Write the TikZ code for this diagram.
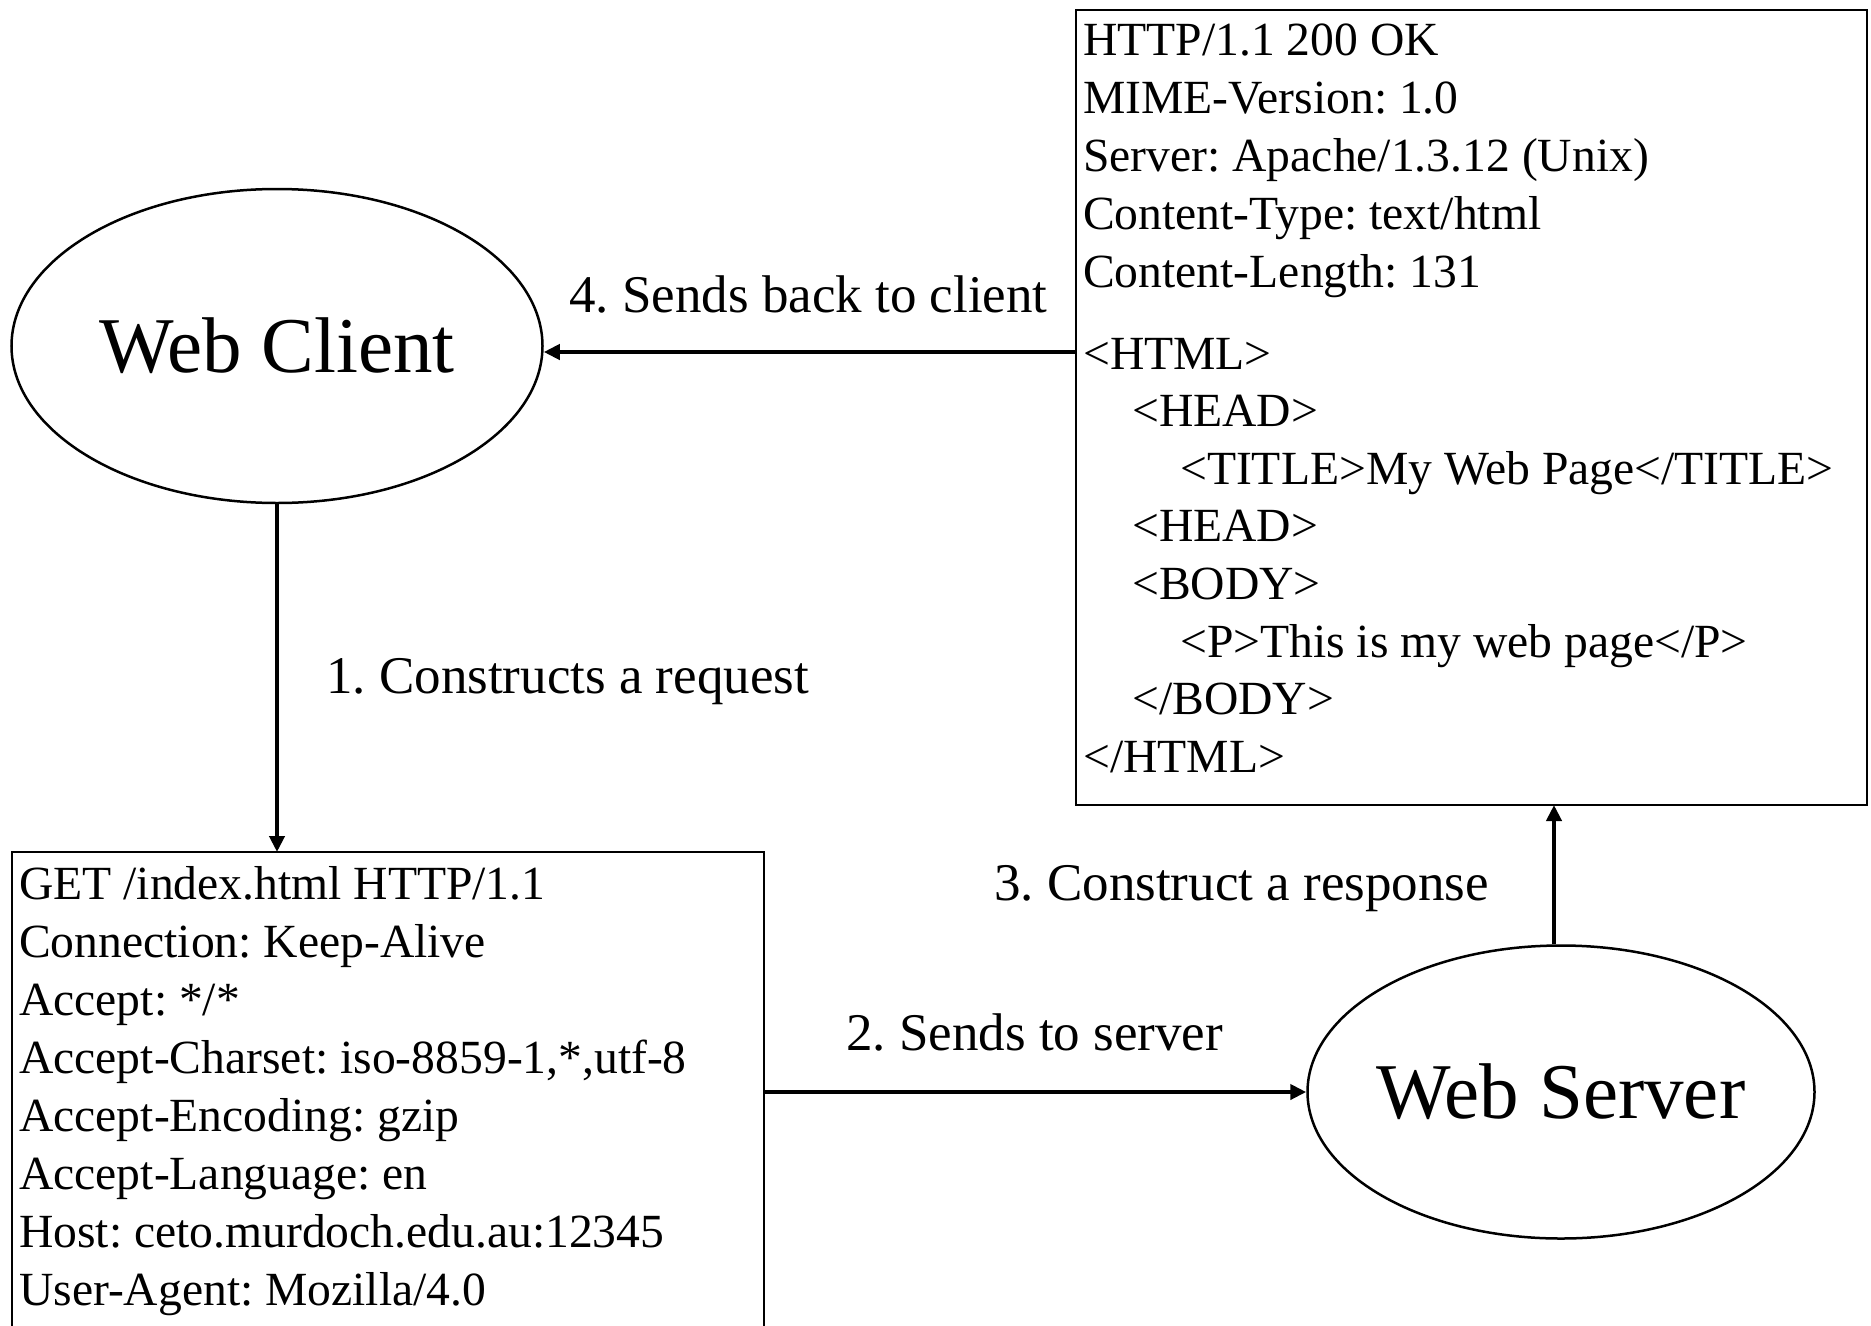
\documentclass[tikz,border=0pt]{standalone}
\usepackage{fontspec}
\setmainfont{Liberation Serif}
\usetikzlibrary{shapes.geometric,arrows.meta}

\begin{document}
\frenchspacing
\begin{tikzpicture}[x=1pt,y=-1pt,
  box/.style={draw, line width=2pt, rectangle, inner sep=0pt, outer sep=0pt, anchor=north west},
  agent/.style={draw, ellipse, line width=2.5pt, inner sep=0pt,
    font=\fontsize{79}{82}\selectfont},
  msgline/.style={anchor=base west, inner sep=0pt, font=\fontsize{47.6}{56}\selectfont},
  steplabel/.style={anchor=base west, inner sep=0pt, font=\fontsize{53}{60}\selectfont},
  flow/.style={line width=4.2pt, -{Triangle[length=16pt,width=15pt]}}]

\path[use as bounding box, fill=white] (0,0) rectangle (1871,1325);
\clip (0,0) rectangle (1871,1325);

% client and server (the name is boxed at zero width so the ellipse keeps its size)
\node[agent, minimum width=531pt, minimum height=314pt] (client) at (277,346)
  {\makebox[0pt][c]{Web Client}};
\node[agent, minimum width=507pt, minimum height=293pt] (server) at (1561,1092)
  {\makebox[0pt][c]{Web Server}};

% request message (runs off the bottom edge)
\node[box, minimum width=752pt, minimum height=560pt] (req) at (12,852) {};
\foreach \t [count=\i from 0] in {GET /index.html HTTP/1.1, Connection: Keep-Alive,
    Accept: */*, {Accept-Charset: iso-8859-1,*,utf-8}, Accept-Encoding: gzip,
    Accept-Language: en, Host: ceto.murdoch.edu.au:12345, User-Agent: Mozilla/4.0}
  \node[msgline] (req-\i) at (19,899+58*\i) {\t};

% response message
\node[box, minimum width=791pt, minimum height=795pt] (resp) at (1076,10) {};
\foreach \t [count=\i from 0] in {HTTP/1.1 200 OK, MIME-Version: 1.0,
    Server: Apache/1.3.12 (Unix), Content-Type: text/html, Content-Length: 131}
  \node[msgline] (hdr-\i) at (1083,55+58*\i) {\t};
\foreach \dx/\t [count=\i from 0] in {0/{<HTML>}, 49/{<HEAD>},
    97/{<TITLE>My Web Page</TITLE>}, 49/{<HEAD>}, 49/{<BODY>},
    97/{<P>This is my web page</P>}, 49/{</BODY>}, 0/{</HTML>}}
  \node[msgline] (body-\i) at (1083+\dx,369+57.6*\i) {\t};

% step labels
\node[steplabel] (lab1) at (326,693) {1. Constructs a request};
\node[steplabel] (lab2) at (846,1050) {2. Sends to server};
\node[steplabel] (lab3) at (994,900) {3. Construct a response};
\node[steplabel] (lab4) at (569,312) {4. Sends back to client};

% message flow
\path ([yshift=-6pt]client.east) coordinate (back);
\path ([xshift=-7pt]server.north) coordinate (up);
\draw[flow] (client.south) -- (client.south |- req.north);
\draw[flow] (req.east |- server.west) -- (server.west);
\draw[flow] (up) -- (up |- resp.south);
\draw[flow] (resp.west |- back) -- (back);
\end{tikzpicture}
\end{document}
